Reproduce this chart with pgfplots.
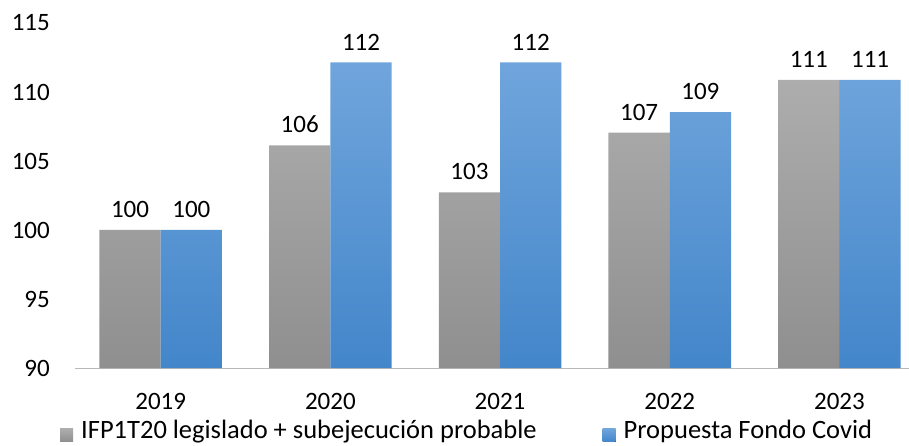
\documentclass[border=0pt]{standalone}
\usepackage{fontspec}
\setmainfont{Carlito}
\usepackage{pgfplots}
\pgfplotsset{compat=1.18}
\usetikzlibrary{calc}
\definecolor{grayT}{HTML}{ADADAD}
\definecolor{grayB}{HTML}{8F8F8F}
\definecolor{blueT}{HTML}{70A5DC}
\definecolor{blueB}{HTML}{4386CA}
\newcommand\cf{\fontsize{25bp}{29bp}\selectfont}
\newcommand\lf{\fontsize{26.5bp}{30bp}\selectfont}

\begin{document}
\begin{tikzpicture}
\begin{axis}[
  name=ax,
  scale only axis,
  width=834bp, height=345bp,
  xmin=-0.505, xmax=4.41,
  ymin=90, ymax=115,
  ytick={90,95,...,115},
  xtick={0,1,2,3,4},
  xticklabels={2019,2020,2021,2022,2023},
  axis x line=bottom, axis y line=left,
  y axis line style={draw=none},
  x axis line style={draw=black!28, line width=1bp, -},
  major tick length=0pt,
  ybar=0pt, bar width=61.3bp,
  ticklabel style={font=\cf},
  yticklabel style={anchor=east, inner sep=0pt, xshift=-25bp},
  xticklabel style={anchor=north, inner sep=0pt, yshift=-25bp},
  /pgf/number format/assume math mode=true,
  nodes near coords={\pgfmathprintnumber[fixed,precision=0]{\pgfplotspointmeta}},
  nodes near coords style={font=\cf, inner sep=0pt, anchor=south, yshift=12bp, text=black},
  clip=false,
  legend columns=2,
  legend image code/.code={\fill[#1] (0bp,-11.5bp) rectangle (13bp,1.5bp);},
  legend style={at={(0,0)}, anchor=north west, xshift=-15bp, yshift=-50bp,
    draw=none, fill=none, inner sep=0pt, font=\lf,
    /tikz/every odd column/.append style={column sep=6bp},
    /tikz/every even column/.append style={column sep=64bp}},
]
\addplot[draw=none, top color=grayT, bottom color=grayB]
  coordinates {(0,100) (1,106.14) (2,102.73) (3,107.05) (4,110.87)};
\addlegendentry{IFP1T20 legislado + subejecución probable}
\addplot[draw=none, top color=blueT, bottom color=blueB]
  coordinates {(0,100) (1,112.15) (2,112.15) (3,108.55) (4,110.87)};
\addlegendentry{Propuesta Fondo Covid}
\end{axis}
\pgfresetboundingbox
\path[use as bounding box] ($(ax.south west)+(-75bp,-78bp)$) rectangle ++(909bp,446bp);
\end{tikzpicture}
\end{document}
